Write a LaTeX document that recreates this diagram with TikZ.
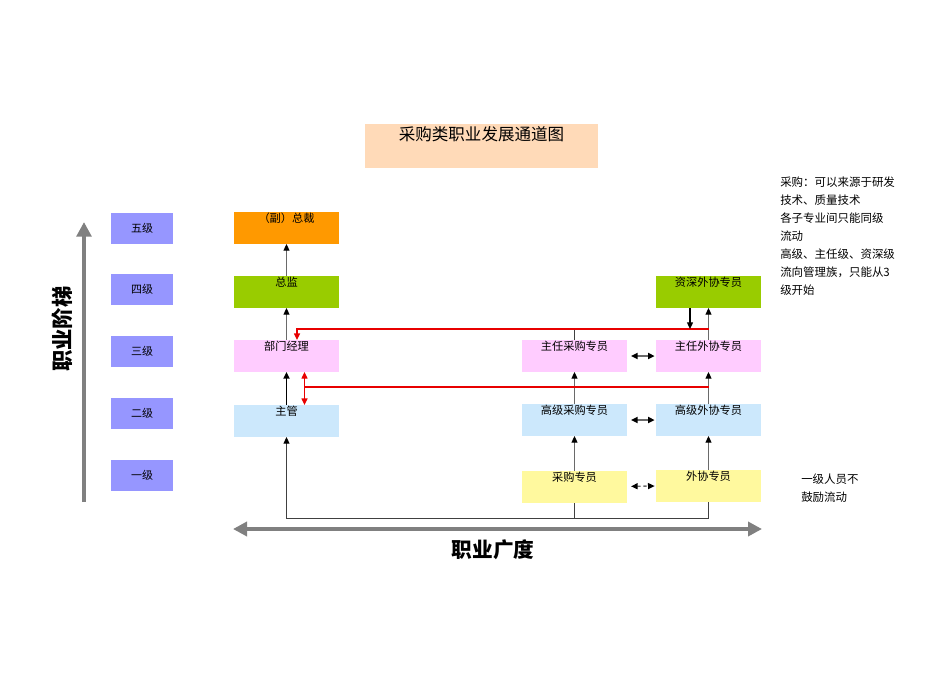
\documentclass[tikz,border=0pt]{standalone}
\usepackage{fontspec}
\setmainfont{Noto Sans CJK SC}
\usetikzlibrary{arrows.meta}
\definecolor{lvl}{HTML}{9696FF}
\definecolor{ttl}{HTML}{FFDAB8}
\definecolor{org}{HTML}{FF9900}
\definecolor{grn}{HTML}{99CC00}
\definecolor{pnk}{HTML}{FFCCFF}
\definecolor{lbl}{HTML}{CCE8FC}
\definecolor{ylw}{HTML}{FFF99E}
\definecolor{gry}{HTML}{808080}
\definecolor{lgry}{HTML}{6A6A6A}
\definecolor{rd}{HTML}{E80000}
\begin{document}
\begin{tikzpicture}[x=0.75pt,y=-0.75pt,
  lv/.style={fill=lvl,minimum width=46.5pt,minimum height=23.25pt,inner sep=0pt,font=\fontsize{8.25}{10}\selectfont},
  box/.style={minimum width=78.75pt,minimum height=24pt,inner sep=0pt,outer sep=0pt},
  bl/.style={anchor=center,inner sep=0pt,yshift=-5pt,font=\fontsize{8.4}{10}\selectfont},
  tip/.style={-{Triangle[width=4.5pt,length=5pt,color=black]}},
  conn/.style={draw=lgry,line width=0.8pt,tip},
  plain/.style={draw=lgry!60!black,line width=0.75pt},
  hconn/.style={draw=lgry,line width=1.3pt,{Triangle[width=4.5pt,length=5pt,color=black]}-{Triangle[width=4.5pt,length=5pt,color=black]}},
  redl/.style={draw=rd,line width=1pt},
  redtip/.style={-{Triangle[width=4.5pt,length=5pt,color=rd]}},
  big/.style={draw=gry,line width=3pt},
  note/.style={font=\fontsize{8.6}{13.4}\selectfont,align=left,inner sep=0pt}
]
\useasboundingbox (0,0) rectangle (950,672);

% title
\node[box,fill=ttl,minimum width=174.75pt,minimum height=33pt,
  label={[anchor=center,inner sep=0pt,yshift=-7.5pt,font=\fontsize{12.4}{14}\selectfont]north:采购类职业发展通道图}] (tt) at (481.5,146) {};

% level boxes
\node[lv] (l5) at (142,228) {五级};
\node[lv] (l4) at (142,289.5) {四级};
\node[lv] (l3) at (142,351.5) {三级};
\node[lv] (l2) at (142,413.5) {二级};
\node[lv] (l1) at (142,475) {一级};

% column 1
\node[box,fill=org,label={[bl]north:（副）总裁}] (zc) at (286.5,228) {};
\node[box,fill=grn,label={[bl]north:总监}] (zj) at (286.5,292) {};
\node[box,fill=pnk,label={[bl]north:部门经理}] (jl) at (286.5,356) {};
\node[box,fill=lbl,label={[bl]north:主管}] (zg) at (286.5,421) {};

% column 2
\node[box,fill=pnk,label={[bl]north:主任采购专员}] (zrc) at (574.5,356) {};
\node[box,fill=lbl,label={[bl]north:高级采购专员}] (gjc) at (574.5,420) {};
\node[box,fill=ylw,label={[bl]north:采购专员}] (cg) at (574.5,487) {};

% column 3
\node[box,fill=grn,label={[bl]north:资深外协专员}] (sw) at (708.5,292) {};
\node[box,fill=pnk,label={[bl]north:主任外协专员}] (zrw) at (708.5,356) {};
\node[box,fill=lbl,label={[bl]north:高级外协专员}] (gjw) at (708.5,420) {};
\node[box,fill=ylw,label={[bl]north:外协专员}] (wx) at (708.5,486) {};

% vertical connectors
\draw[conn] (zj.north) -- (zc.south);
\draw[conn] (jl.north) -- (zj.south);
\draw[conn,draw=black,line width=1.3pt] (zg.north) -- (jl.south);
\draw[conn] (cg.north) -- (gjc.south);
\draw[conn] (wx.north) -- (gjw.south);
\draw[conn] (gjc.north) -- (zrc.south);
\draw[conn] (gjw.north) -- (zrw.south);
\draw[conn] (zrw.north) -- (sw.south);

% red upper line
\coordinate (r1) at (708.5,329);
\coordinate (r1l) at (297,329);
\draw[plain] (zrc.north) -- (zrc.north |- r1);
\draw[redl,redtip] (r1) -- (r1l) -- (r1l |- jl.north);
\coordinate (dnx) at (690,0);
\draw[draw=black,line width=0.9pt,tip] (sw.south -| dnx) -- (r1 -| dnx);

% red lower line
\coordinate (r2) at (708.5,387);
\coordinate (r2l) at (304.5,387);
\draw[redl] (r2) -- (r2l);
\draw[redl,{Triangle[width=4.5pt,length=5pt,color=rd]}-{Triangle[width=4.5pt,length=5pt,color=rd]}] (jl.south -| r2l) -- (zg.north -| r2l);

% horizontal double arrows
\draw[hconn] ([xshift=3pt]zrc.east) -- ([xshift=-1pt]zrw.west);
\draw[hconn] ([xshift=3pt]gjc.east) -- ([xshift=-1pt]gjw.west);
\draw[hconn,line width=1pt,dash pattern=on 2.5pt off 2pt] ([xshift=3pt,yshift=0.5pt]cg.east) -- ([xshift=-1pt]wx.west);

% bottom loop
\coordinate (bb) at (708.5,518);
\draw[plain,-{Triangle[width=4.5pt,length=5pt,color=black]}] (wx.south) -- (bb) -- (bb -| zg.south) -- (zg.south);
\draw[plain] (cg.south) -- (cg.south |- bb);

% big axes
\coordinate (va) at (84,502);
\coordinate (vb) at (84,222);
\draw[big,-{Triangle[width=11pt,length=11pt]}] (va) -- (vb);
\coordinate (ha) at (233,529);
\coordinate (hb) at (762,529);
\draw[big,{Triangle[width=10.5pt,length=10.5pt]}-{Triangle[width=10.5pt,length=10.5pt]}] (ha) -- (hb);

\node[rotate=90,font=\fontsize{16}{18}\selectfont\bfseries,inner sep=0pt] (ylab) at (62,329) {职业阶梯};
\node[font=\fontsize{15.5}{18}\selectfont\bfseries,inner sep=0pt] (xlab) at (493,550) {职业广度};

% notes
\node[note,anchor=north west] (n1) at (780,177) {采购：可以来源于研发\\技术、质量技术\\各子专业间只能同级\\流动\\高级、主任级、资深级\\流向管理族，只能从3\\级开始};
\node[note,anchor=north west] (n2) at (801,474) {一级人员不\\鼓励流动};
\end{tikzpicture}
\end{document}
